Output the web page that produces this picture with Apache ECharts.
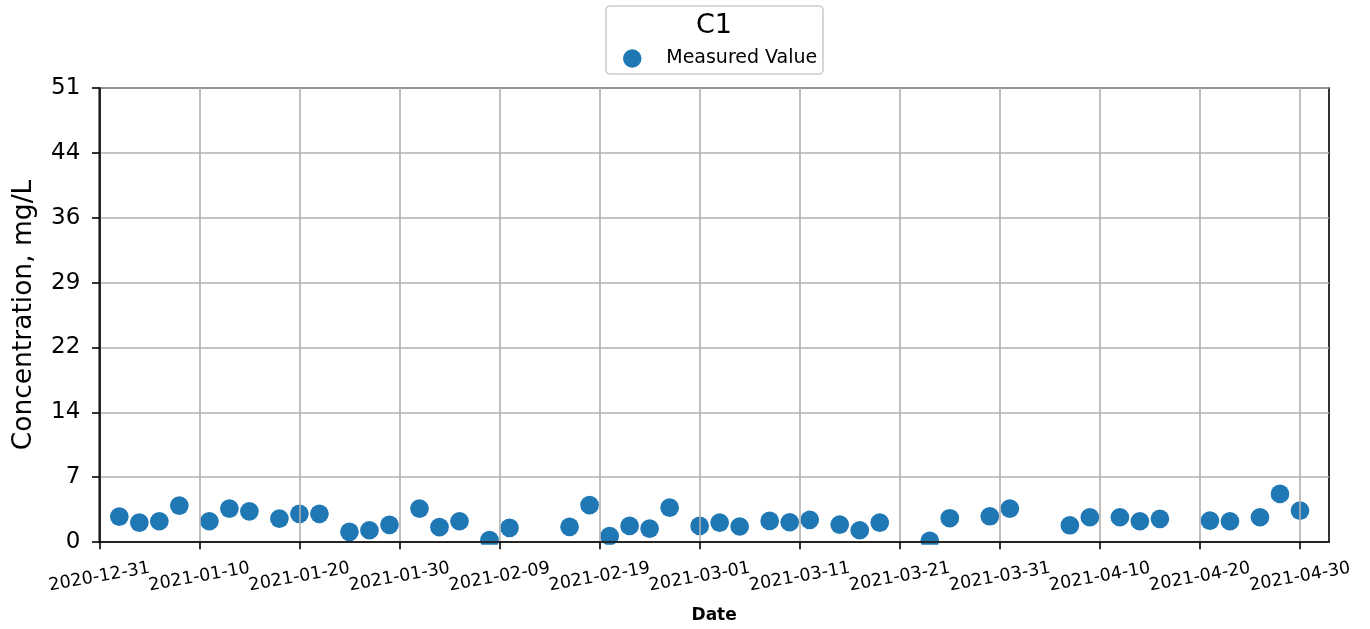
<!DOCTYPE html>
<html>
<head>
<meta charset="utf-8">
<title>C1 – Measured Value</title>
<script src="https://cdn.jsdelivr.net/npm/echarts@6/dist/echarts.min.js"></script>
<style>
  html, body { margin: 0; padding: 0; background: #fff; }
  #chart { width: 1370px; height: 629px; }
</style>
</head>
<body>
<div id="chart"></div>
<script>
// Sample dates and measured concentrations (mg/L)
const sampleDates = [
  '2021-01-02', '2021-01-04', '2021-01-06', '2021-01-08', '2021-01-11',
  '2021-01-13', '2021-01-15', '2021-01-18', '2021-01-20', '2021-01-22',
  '2021-01-25', '2021-01-27', '2021-01-29', '2021-02-01', '2021-02-03',
  '2021-02-05', '2021-02-08', '2021-02-10', '2021-02-16', '2021-02-18',
  '2021-02-20', '2021-02-22', '2021-02-24', '2021-02-26', '2021-03-01',
  '2021-03-03', '2021-03-05', '2021-03-08', '2021-03-10', '2021-03-12',
  '2021-03-15', '2021-03-17', '2021-03-19', '2021-03-24', '2021-03-26',
  '2021-03-30', '2021-04-01', '2021-04-07', '2021-04-09', '2021-04-12',
  '2021-04-14', '2021-04-16', '2021-04-21', '2021-04-23', '2021-04-26',
  '2021-04-28', '2021-04-30'
];
const measuredValues = [
  2.86, 2.18, 2.33, 4.09, 2.33, 3.75, 3.45, 2.63, 3.16, 3.16,
  1.14, 1.32, 1.93, 3.75, 1.66, 2.33, 0.20, 1.59, 1.70, 4.15,
  0.65, 1.81, 1.51, 3.86, 1.81, 2.18, 1.74, 2.37, 2.22, 2.49,
  1.96, 1.32, 2.18, 0.13, 2.67, 2.89, 3.75, 1.88, 2.78, 2.78,
  2.33, 2.60, 2.41, 2.33, 2.78, 5.40, 3.53
];

// Axis tick labels
const xTickLabels = [
  '2020-12-31', '2021-01-10', '2021-01-20', '2021-01-30', '2021-02-09',
  '2021-02-19', '2021-03-01', '2021-03-11', '2021-03-21', '2021-03-31',
  '2021-04-10', '2021-04-20', '2021-04-30'
];
const yTickLabels = ['0', '7', '14', '22', '29', '36', '44', '51'];

const DAY = 86400000;
const toTime = s => { const p = s.split('-').map(Number); return Date.UTC(p[0], p[1] - 1, p[2]); };
const fmtDate = t => new Date(t).toISOString().slice(0, 10);

const xMin = toTime('2020-12-31');
const xMax = xMin + 122.9 * DAY;
const yMax = 51;
const xTicks = xTickLabels.map(toTime);
// neighbouring rotated date labels touch each other, so they are split over
// two label rows sharing the same baseline to keep ECharts from dropping any
const xTicksEven = xTicks.filter((_, i) => i % 2 === 0);
const xTicksOdd = xTicks.filter((_, i) => i % 2 === 1);
const yTicks = yTickLabels.map((_, i) => i * yMax / (yTickLabels.length - 1));

const points = sampleDates.map((d, i) => [toTime(d), measuredValues[i]]);

const FONT = 'DejaVu Sans';
const LW = 1.6;

const dateLabel = values => ({
  customValues: values,
  formatter: v => fmtDate(v),
  rotate: 10,
  align: 'center',
  verticalAlign: 'middle',
  margin: 35,
  showMinLabel: true,
  showMaxLabel: true,
  fontFamily: FONT, fontSize: 17.6, color: '#000'
});

const chart = echarts.init(document.getElementById('chart'), null, { renderer: 'canvas' });
chart.setOption({
  animation: false,
  backgroundColor: '#fff',
  textStyle: { fontFamily: FONT },
  grid: {
    left: 99.3, right: 41, top: 88, bottom: 85.5,
    show: true, borderColor: '#000', borderWidth: LW, backgroundColor: 'transparent'
  },
  legend: {
    data: ['Measured Value'],
    icon: 'circle',
    left: 623, top: 49,
    padding: 0,
    itemWidth: 58, itemHeight: 18.5,
    textStyle: { fontFamily: FONT, fontSize: 19, color: '#000' }
  },
  graphic: [
    {
      type: 'rect', z: -1,
      shape: { x: 606, y: 6, width: 217, height: 68, r: 4 },
      style: { fill: 'rgba(255,255,255,0.8)', stroke: '#cccccc', lineWidth: 1.6 }
    },
    {
      type: 'text', z: 10,
      x: 714, y: 26,
      style: { text: 'C1', fontFamily: FONT, fontSize: 27, fill: '#000', align: 'center', verticalAlign: 'middle' }
    },
    {
      // keeps markers from spilling below the x axis line
      type: 'rect', z: 3,
      shape: { x: 97, y: 544.8, width: 1236, height: 11 },
      style: { fill: '#fff' }
    }
  ],
  xAxis: [
    {
      type: 'value',
      position: 'bottom',
      z: 5,
      min: xMin, max: xMax,
      name: 'Date',
      nameLocation: 'middle',
      nameGap: 65,
      nameTextStyle: { fontFamily: FONT, fontSize: 17, fontWeight: 'bold', color: '#000' },
      axisLine: { show: true, onZero: false, lineStyle: { color: '#000', width: LW } },
      axisTick: { show: true, customValues: xTicks, length: 7.3, lineStyle: { color: '#000', width: LW } },
      axisLabel: dateLabel(xTicksEven),
      splitLine: { show: true, lineStyle: { color: '#b0b0b0', width: LW } }
    },
    {
      type: 'value',
      position: 'bottom',
      offset: 0,
      z: 5,
      min: xMin, max: xMax,
      axisLine: { show: false, onZero: false },
      axisTick: { show: false },
      axisLabel: dateLabel(xTicksOdd),
      splitLine: { show: false }
    }
  ],
  yAxis: {
    type: 'value',
    z: 5,
    min: 0, max: yMax,
    name: 'Concentration, mg/L',
    nameLocation: 'middle',
    nameGap: 62,
    nameTextStyle: { fontFamily: FONT, fontSize: 26.5, color: '#000' },
    axisLine: { show: true, lineStyle: { color: '#000', width: LW } },
    axisTick: { show: true, customValues: yTicks, length: 7.3, lineStyle: { color: '#000', width: LW } },
    axisLabel: {
      customValues: yTicks,
      formatter: v => yTickLabels[Math.round(v * (yTickLabels.length - 1) / yMax)],
      margin: 19,
      showMinLabel: true,
      showMaxLabel: true,
      fontFamily: FONT, fontSize: 23, color: '#000'
    },
    splitLine: { show: true, lineStyle: { color: '#b0b0b0', width: LW } }
  },
  series: [{
    name: 'Measured Value',
    type: 'scatter',
    xAxisIndex: 0,
    data: points,
    symbol: 'circle',
    symbolSize: 18.7,
    itemStyle: { color: '#1f77b4', opacity: 1 }
  }]
});
</script>
</body>
</html>
